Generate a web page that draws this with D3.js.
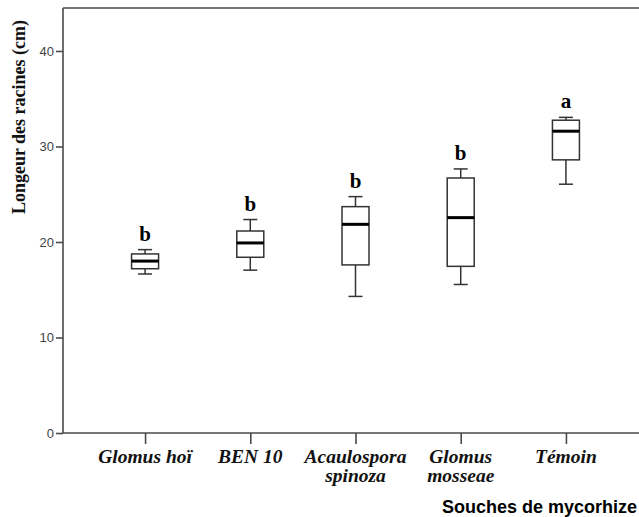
<!DOCTYPE html>
<html>
<head>
<meta charset="utf-8">
<script src="https://cdn.jsdelivr.net/npm/d3@7"></script>
<style>
  html, body { margin: 0; padding: 0; background: #fff; }
  svg { display: block; }
</style>
</head>
<body>
<svg id="chart" width="639" height="517"></svg>
<script>
// ---- Data ----
const categories = ["Glomus hoï", "BEN 10", "Acaulospora spinoza", "Glomus mosseae", "Témoin"];
const categoryLines = [["Glomus hoï"], ["BEN 10"], ["Acaulospora", "spinoza"], ["Glomus", "mosseae"], ["Témoin"]];
const whiskerLow  = [16.65, 17.05, 14.3, 15.55, 26.05];
const q1          = [17.2, 18.4, 17.6, 17.45, 28.6];
const median      = [18.0, 19.9, 21.85, 22.55, 31.6];
const q3          = [18.75, 21.15, 23.7, 26.7, 32.75];
const whiskerHigh = [19.2, 22.35, 24.75, 27.65, 33.05];
const sigLetters  = ["b", "b", "b", "b", "a"];
const yTicks = [0, 10, 20, 30, 40];
const yTitle = "Longeur des racines (cm)";
const xTitle = "Souches de mycorhize";

const svg = d3.select("#chart");
const mLeft = 63, mRight = 648, mTop = 8, mBottom = 433;

const x = d3.scalePoint().domain(categories).range([mLeft, mRight]).padding(0.78);
const y = d3.scaleLinear().domain([0, 44.5]).range([mBottom, mTop]);

const axisColor = "#4a4a4a";

// Frame: top line
svg.append("line")
  .attr("x1", mLeft).attr("x2", 639).attr("y1", mTop).attr("y2", mTop)
  .attr("stroke", axisColor).attr("stroke-width", 1.6);

// Y axis
const yAxis = svg.append("g")
  .attr("transform", `translate(${mLeft},0)`)
  .call(d3.axisLeft(y).tickValues(yTicks).tickSize(7).tickPadding(2).tickFormat(d3.format("d")));
yAxis.select(".domain").remove();
yAxis.selectAll(".tick line").attr("stroke", axisColor).attr("stroke-width", 1.6);
yAxis.selectAll(".tick text")
  .attr("fill", "#444")
  .style("font-family", "'Liberation Sans', Arial, sans-serif")
  .style("font-size", "13px");
svg.append("line")
  .attr("x1", mLeft).attr("x2", mLeft).attr("y1", mTop).attr("y2", mBottom)
  .attr("stroke", axisColor).attr("stroke-width", 1.6);

// X axis
const xAxis = svg.append("g")
  .attr("transform", `translate(0,${mBottom})`)
  .call(d3.axisBottom(x).tickSize(11).tickFormat(""));
xAxis.select(".domain").remove();
xAxis.selectAll(".tick line").attr("stroke", axisColor).attr("stroke-width", 1.6);
svg.append("line")
  .attr("x1", mLeft).attr("x2", 639).attr("y1", mBottom).attr("y2", mBottom)
  .attr("stroke", axisColor).attr("stroke-width", 1.6);

// X category labels
categories.forEach((c, i) => {
  const t = svg.append("text")
    .attr("x", x(c))
    .attr("y", 463)
    .attr("text-anchor", "middle")
    .style("font-family", "'Liberation Serif', 'Times New Roman', serif")
    .style("font-style", "italic")
    .style("font-weight", "bold")
    .style("font-size", "19.5px")
    .attr("fill", "#111");
  categoryLines[i].forEach((line, j) => {
    t.append("tspan").attr("x", x(c)).attr("dy", j === 0 ? 0 : 19).text(line);
  });
});

// Boxes
const boxW = 27, capW = 14;
const g = svg.append("g");
categories.forEach((c, i) => {
  const cx = x(c);
  const stroke = "#333";
  g.append("line").attr("x1", cx).attr("x2", cx)
    .attr("y1", y(whiskerHigh[i])).attr("y2", y(q3[i]))
    .attr("stroke", stroke).attr("stroke-width", 1.5);
  g.append("line").attr("x1", cx).attr("x2", cx)
    .attr("y1", y(q1[i])).attr("y2", y(whiskerLow[i]))
    .attr("stroke", stroke).attr("stroke-width", 1.5);
  [whiskerHigh[i], whiskerLow[i]].forEach(v => {
    g.append("line").attr("x1", cx - capW / 2).attr("x2", cx + capW / 2)
      .attr("y1", y(v)).attr("y2", y(v))
      .attr("stroke", stroke).attr("stroke-width", 1.5);
  });
  g.append("rect")
    .attr("x", cx - boxW / 2).attr("width", boxW)
    .attr("y", y(q3[i])).attr("height", y(q1[i]) - y(q3[i]))
    .attr("fill", "#fff").attr("stroke", stroke).attr("stroke-width", 1.5);
  g.append("line").attr("x1", cx - boxW / 2).attr("x2", cx + boxW / 2)
    .attr("y1", y(median[i])).attr("y2", y(median[i]))
    .attr("stroke", "#000").attr("stroke-width", 3);
  svg.append("text")
    .attr("x", cx).attr("y", y(whiskerHigh[i]) - 9)
    .attr("text-anchor", "middle")
    .style("font-family", "'Liberation Serif', 'Times New Roman', serif")
    .style("font-weight", "bold")
    .style("font-size", "21px")
    .attr("fill", "#000")
    .text(sigLetters[i]);
});

// Y title
svg.append("text")
  .attr("transform", "translate(25,117) rotate(-90)")
  .attr("text-anchor", "middle")
  .style("font-family", "'Liberation Serif', 'Times New Roman', serif")
  .style("font-weight", "bold")
  .style("font-size", "18px")
  .attr("fill", "#111")
  .text(yTitle);

// X title
svg.append("text")
  .attr("x", 637).attr("y", 513)
  .attr("text-anchor", "end")
  .style("font-family", "'Liberation Sans', Arial, sans-serif")
  .style("font-weight", "bold")
  .style("font-size", "18px")
  .attr("fill", "#000")
  .text(xTitle);
</script>
</body>
</html>
